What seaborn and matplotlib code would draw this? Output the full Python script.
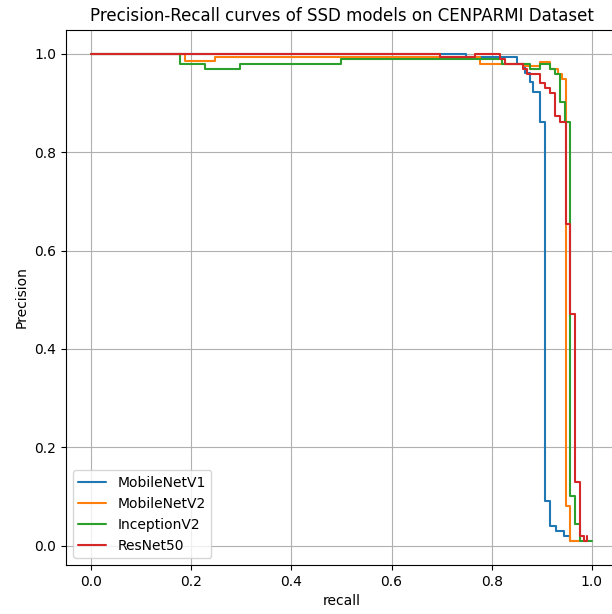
import matplotlib
matplotlib.use("Agg")
import matplotlib.pyplot as plt
import seaborn as sns
import pandas as pd

models = ["MobileNetV1", "MobileNetV2", "InceptionV2", "ResNet50"]

recall_v1 = [0.0, 0.748, 0.850, 0.866, 0.876, 0.883, 0.896, 0.907, 0.916, 0.928, 0.945, 0.957, 0.97]
prec_v1 = [1.0, 0.993, 0.980, 0.961, 0.942, 0.923, 0.862, 0.090, 0.040, 0.030, 0.020, 0.010, 0.010]

recall_v2 = [0.0, 0.188, 0.248, 0.776, 0.866, 0.896, 0.916, 0.933, 0.940, 0.948, 0.957, 0.978]
prec_v2 = [1.0, 0.986, 0.993, 0.980, 0.975, 0.983, 0.970, 0.960, 0.950, 0.080, 0.010, 0.010]

recall_inc = [0.0, 0.178, 0.228, 0.297, 0.500, 0.820, 0.876, 0.896, 0.916, 0.926, 0.936, 0.946, 0.957, 0.967, 0.976, 1.0]
prec_inc = [1.0, 0.980, 0.970, 0.980, 0.990, 0.980, 0.970, 0.980, 0.970, 0.960, 0.903, 0.862, 0.100, 0.043, 0.010, 0.010]

recall_res = [0.0, 0.697, 0.766, 0.816, 0.826, 0.863, 0.870, 0.896, 0.906, 0.916, 0.926, 0.936, 0.948, 0.957, 0.967, 0.976, 0.985, 0.99]
prec_res = [1.0, 0.993, 1.0, 0.990, 0.980, 0.970, 0.960, 0.940, 0.930, 0.920, 0.873, 0.862, 0.654, 0.471, 0.130, 0.020, 0.010, 0.020]

frames = []
for name, r, p in zip(models,
                      [recall_v1, recall_v2, recall_inc, recall_res],
                      [prec_v1, prec_v2, prec_inc, prec_res]):
    frames.append(pd.DataFrame({"recall": r, "Precision": p, "model": name}))
df = pd.concat(frames, ignore_index=True)

sns.set_style("ticks")
plt.rcParams.update({
    "text.color": "black", "axes.labelcolor": "black",
    "xtick.color": "black", "ytick.color": "black",
    "axes.edgecolor": "black", "font.family": ["DejaVu Sans"],
})

fig = plt.figure(figsize=(6.12, 6.14), dpi=100)
ax = fig.add_axes([0.1078, 0.0798, 0.9003, 0.872])

sns.lineplot(data=df, x="recall", y="Precision", hue="model", palette="tab10",
             estimator=None, sort=False, drawstyle="steps-post", linewidth=1.5, ax=ax)

ax.set_xlim(-0.05, 1.05)
ax.set_ylim(-0.0395, 1.0495)
ax.set_xticks([0.0, 0.2, 0.4, 0.6, 0.8, 1.0])
ax.set_yticks([0.0, 0.2, 0.4, 0.6, 0.8, 1.0])
ax.grid(True, color="#b0b0b0", linewidth=0.8)
ax.tick_params(labelsize=10, length=3.5, width=0.8)
for s in ax.spines.values():
    s.set_linewidth(0.8)
ax.set_xlabel("recall", fontsize=10)
ax.set_ylabel("Precision", fontsize=10)
ax.set_title("Precision-Recall curves of SSD models on CENPARMI Dataset", fontsize=12)
leg = ax.legend(loc="lower left", fontsize=10, title=None)

fig.savefig("out.png", dpi=100)
